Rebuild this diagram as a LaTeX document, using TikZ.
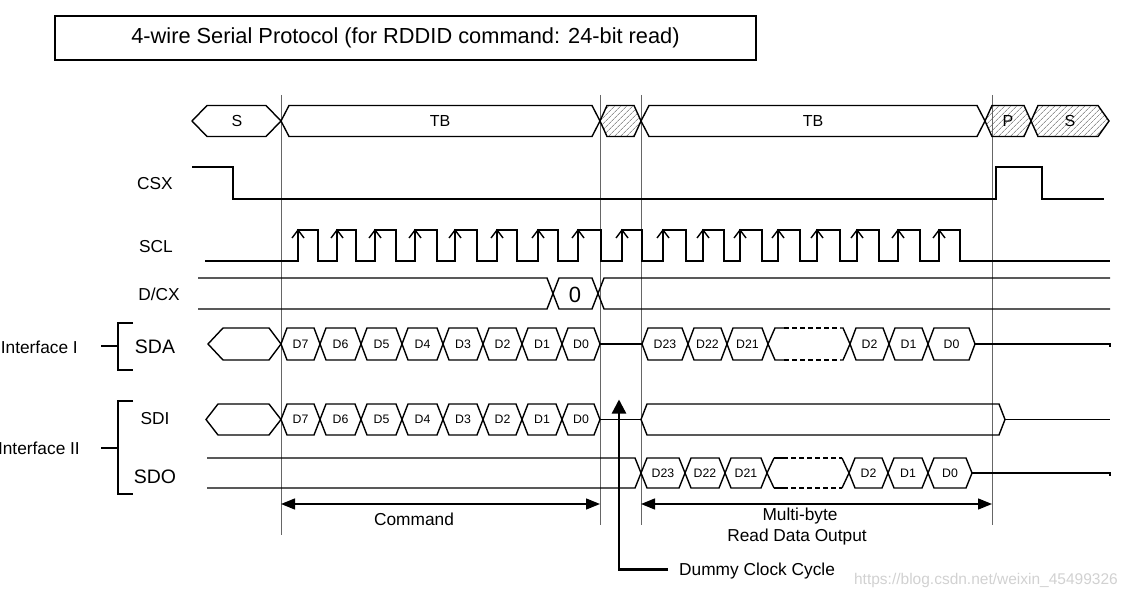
\documentclass[tikz,border=0pt]{standalone}
\usepackage{fontspec}
\setmainfont{Liberation Sans}
\usetikzlibrary{patterns.meta,arrows.meta}
\newcommand\hexb[6]{\draw[sig] (#1,#3) -- ({#1+#5},{#3-#4}) -- ({#2-#6},{#3-#4}) -- (#2,#3) -- ({#2-#6},{#3+#4}) -- ({#1+#5},{#3+#4}) -- cycle;}
\newcommand\hexh[6]{\draw[sig,hatch] (#1,#3) -- ({#1+#5},{#3-#4}) -- ({#2-#6},{#3-#4}) -- (#2,#3) -- ({#2-#6},{#3+#4}) -- ({#1+#5},{#3+#4}) -- cycle;}
\newcommand\hexd[3]{% x1 x2 yc : dashed gap box
  \draw[sig] ({#1+16},{#3-16}) -- ({#1+7},{#3-16}) -- (#1,#3) -- ({#1+7},{#3+16}) -- ({#1+16},{#3+16});
  \draw[sig] ({#2-10},{#3-16}) -- ({#2-7},{#3-16}) -- (#2,#3) -- ({#2-7},{#3+16}) -- ({#2-10},{#3+16});
  \draw[sig,dash pattern=on 5pt off 3pt] ({#1+16},{#3-16}) -- ({#2-10},{#3-16});
  \draw[sig,dash pattern=on 5pt off 3pt] ({#1+16},{#3+16}) -- ({#2-10},{#3+16});}
\tikzset{
  sig/.style={line width=1.4pt,black,line join=miter},
  hatch/.style={pattern={Lines[angle=45,distance=4pt,line width=0.6pt]},pattern color=black!65},
  guide/.style={line width=0.9pt,black!60},
  lbl/.style={font=\fontsize{17.3}{20}\selectfont,inner sep=0pt},
  big/.style={font=\fontsize{19.5}{22}\selectfont,inner sep=0pt},
  bus/.style={font=\fontsize{16}{18}\selectfont,inner sep=0pt},
  dl/.style={font=\fontsize{12.3}{14}\selectfont,inner sep=0pt},
  dim/.style={line width=1.4pt,{Triangle[length=14pt,width=11pt]}-{Triangle[length=14pt,width=11pt]}},
}
\begin{document}
\begin{tikzpicture}[x=1pt,y=-1pt]
\useasboundingbox (0,0) rectangle (1127,599);
% guide lines
\draw[guide] (281,95) -- (281,535);
\draw[guide] (600,95) -- (600,525);
\draw[guide] (641,95) -- (641,525);
\draw[guide] (992,95) -- (992,525);
% title
\node[draw,line width=1.2pt,minimum width=701pt,minimum height=44pt,inner sep=0pt,font=\fontsize{21.8}{24}\selectfont] (title) at (405.5,38) {4-wire Serial Protocol (for RDDID command: 24-bit read)};
% top bus
\hexb{192}{281}{121}{15.5}{15}{15}
\hexb{281}{600}{121}{15.5}{8}{8}
\hexh{600}{641}{121}{15.5}{7}{7}
\hexb{641}{985}{121}{15.5}{8}{8}
\hexh{985}{1031}{121}{15.5}{7}{7}
\hexh{1031}{1109}{121}{15.5}{7}{11}
\node[bus] (s1) at (237,121) {S};
\node[bus] (tb1) at (440,121) {TB};
\node[bus] (tb2) at (813,121) {TB};
\node[bus] (p) at (1008,121) {P};
\node[bus] (s2) at (1070,121) {S};
% signal labels
\node[lbl] (csx) at (155,184) {CSX};
\node[lbl] (scl) at (156,247) {SCL};
\node[lbl] (dcx) at (159,294) {D/CX};
\node[big] (sda) at (155,347) {SDA};
\node[lbl] (sdi) at (155,419) {SDI};
\node[big] (sdo) at (155,477) {SDO};
\node[lbl,anchor=east] (if1) at (78,347) {Interface I};
\node[lbl,anchor=east] (if2) at (80,448) {Interface II};
% brackets
\draw[sig] (133,323) -- (118,323) -- (118,370) -- (133,370);
\draw[sig] (101,346) -- (118,346);
\draw[sig] (133,401) -- (118,401) -- (118,494) -- (133,494);
\draw[sig] (101,448) -- (118,448);
% CSX
\draw[sig] (192,167) -- (233,167) -- (233,199) -- (996,199) -- (996,167) -- (1042,167) -- (1042,199) -- (1104,199);
% SCL
\draw[sig] (205,261)
  \foreach \r/\f in {298/318,337/356,375/396,415/437,455/477,497/517,538/558,578/601,622/642,663/686,703/724,740/762,778/800,817/840,857/879,898/920,939/960}{ -- (\r,261) -- (\r,230) -- (\f,230) -- (\f,261)} -- (1110,261);
\foreach \r in {298,337,375,415,455,497,538,578,622,663,703,740,778,817,857,898,939}
  \draw[sig] (\r-6,238) -- (\r,230) -- (\r+6,238);
% D/CX
\draw[sig] (198,278) -- (547,278) -- (559,309) -- (592,309) -- (604,278) -- (1110,278);
\draw[sig] (198,309) -- (547,309) -- (559,278) -- (592,278) -- (604,309) -- (1110,309);
\node[font=\fontsize{22}{24}\selectfont,inner sep=0pt] (zero) at (575,295) {0};
% SDA
\hexb{208}{281}{344}{16}{15}{12}
\foreach \a/\b/\t [count=\i] in {281/320/D7,320/361/D6,361/402/D5,402/443/D4,443/483/D3,483/522/D2,522/562/D1,562/600/D0}{
  \hexb{\a}{\b}{344}{16}{6}{6}
  \node[dl] (sdab\i) at ({(\a+\b)/2},344) {\t};}
\draw[sig] (600,344) -- (642,344);
\foreach \a/\b/\t [count=\i] in {642/688/D23,688/727/D22,727/768/D21,850/889/D2,889/928/D1,928/975/D0}{
  \hexb{\a}{\b}{344}{16}{6}{6}
  \node[dl] (sdar\i) at ({(\a+\b)/2},344) {\t};}
\hexd{768}{850}{344}
\draw[sig] (975,344) -- (1110,344) -- (1110,347);
% SDI
\hexb{206}{281}{419.5}{15.5}{12}{12}
\foreach \a/\b/\t [count=\i] in {281/320/D7,320/361/D6,361/402/D5,402/443/D4,443/483/D3,483/522/D2,522/562/D1,562/600/D0}{
  \hexb{\a}{\b}{419.5}{15.5}{6}{6}
  \node[dl] (sdib\i) at ({(\a+\b)/2},419.5) {\t};}
\draw[sig] (600,419.5) -- (641,419.5);
\hexb{641}{1005}{419.5}{15.5}{6}{6}
\draw[sig] (1005,419.5) -- (1110,419.5);
% SDO
\draw[sig] (207,458) -- (635,458) -- (641,473);
\draw[sig] (207,488) -- (635,488) -- (641,473);
\foreach \a/\b/\t [count=\i] in {641/685/D23,685/725/D22,725/767/D21,849/888/D2,888/928/D1,928/972/D0}{
  \hexb{\a}{\b}{473}{15}{6}{6}
  \node[dl] (sdor\i) at ({(\a+\b)/2},473) {\t};}
\draw[sig] (774,458) -- (767,473) -- (774,488);
\draw[sig] (842,458) -- (849,473) -- (842,488);
\draw[sig] (774,458) -- (783,458);
\draw[sig] (774,488) -- (783,488);
\draw[sig,dash pattern=on 5pt off 3pt] (783,458) -- (839,458);
\draw[sig,dash pattern=on 5pt off 3pt] (783,488) -- (839,488);
\draw[sig] (839,458) -- (842,458);
\draw[sig] (839,488) -- (842,488);
\draw[sig] (972,473) -- (1110,473) -- (1110,476);
% bottom annotations
\coordinate (cmdL) at (281,504);
\coordinate (cmdR) at (600,504);
\draw[dim] (cmdL) -- (cmdR);
\node[lbl] (cmd) at (414,519) {Command};
\coordinate (mbL) at (641,504);
\coordinate (mbR) at (992,504);
\draw[dim] (mbL) -- (mbR);
\node[lbl] (mb1) at (800,516) {Multi-byte};
\node[lbl] (mb2) at (797,537) {Read Data Output};
\node[lbl,anchor=west] (dummy) at (679,571) {Dummy Clock Cycle};
\coordinate (dmA) at (668,569.5);
\coordinate (dmB) at (619,569.5);
\coordinate (dmC) at (619,399.5);
\draw[line width=2.4pt,-{Triangle[length=14pt,width=14pt]}] (dmA) -- (dmB) -- (dmC);
% watermark
\node[font=\fontsize{15.5}{18}\selectfont,text=black!18,anchor=east,inner sep=0pt] (wm) at (1118,580) {https://blog.csdn.net/weixin\_45499326};
\end{tikzpicture}
\end{document}
